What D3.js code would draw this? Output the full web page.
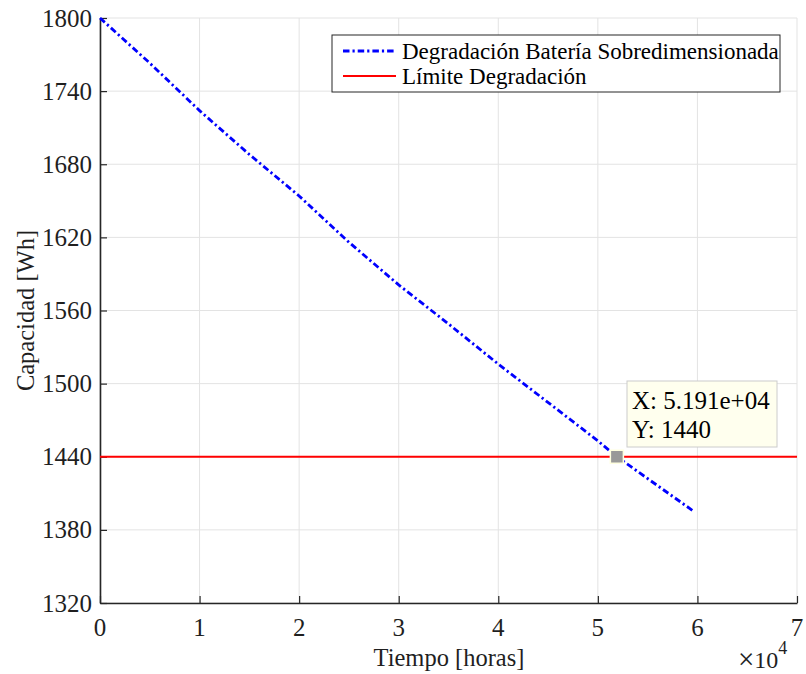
<!DOCTYPE html>
<html>
<head>
<meta charset="utf-8">
<script src="https://cdn.jsdelivr.net/npm/d3@7"></script>
<style>
  html, body { margin: 0; padding: 0; background: #fff; }
  svg { display: block; font-family: "Liberation Serif", "Times New Roman", serif; }
</style>
</head>
<body>
<svg id="chart" width="806" height="674"></svg>
<script>
// Battery capacity over time (hours)
const hours    = [0, 5000, 10000, 15000, 20000, 25000, 30000, 35000, 40000, 46200, 50000, 51910, 59670];
const capacity = [1800, 1763, 1724, 1688, 1654, 1616, 1581, 1549, 1516, 1477, 1453, 1440, 1395];

// Degradation threshold
const limitValue = 1440;
const limitRange = [0, 70000];

// Marked point
const tipHours = 51910;
const tipCapacity = 1440;

// Axis ticks
const xTicks = [0, 1, 2, 3, 4, 5, 6, 7];          // ×10^4 hours
const yTicks = [1320, 1380, 1440, 1500, 1560, 1620, 1680, 1740, 1800];

const seriesNames = ["Degradación Batería Sobredimensionada", "Límite Degradación"];

const svg = d3.select("#chart");
const plotL = 100, plotR = 797, plotT = 18, plotB = 603;
const textColor = "#1f1f1f";

const x = d3.scaleLinear().domain([0, 7]).range([plotL, plotR]);
const y = d3.scaleLinear().domain([1320, 1800]).range([plotB, plotT]);

// Grid
const grid = svg.append("g").attr("stroke", "#e3e3e3").attr("stroke-width", 1);
grid.selectAll("line.v").data(xTicks).join("line").attr("class", "v")
  .attr("x1", d => x(d)).attr("x2", d => x(d))
  .attr("y1", plotT).attr("y2", plotB);
grid.selectAll("line.h").data(yTicks).join("line").attr("class", "h")
  .attr("x1", plotL).attr("x2", plotR)
  .attr("y1", d => y(d)).attr("y2", d => y(d));

// Axes (ticks pointing inward)
const axisColor = "#262626";
const xAxis = svg.append("g").attr("transform", `translate(0,${plotB})`)
  .call(d3.axisTop(x).tickValues(xTicks).tickSize(7).tickSizeOuter(0).tickFormat(""));
const yAxis = svg.append("g").attr("transform", `translate(${plotL},0)`)
  .call(d3.axisRight(y).tickValues(yTicks).tickSize(7).tickSizeOuter(0).tickFormat(""));
[xAxis, yAxis].forEach(g => {
  g.select(".domain").attr("stroke", axisColor).attr("stroke-width", 1.6);
  g.selectAll(".tick line").attr("stroke", axisColor).attr("stroke-width", 1.2);
});

// Tick labels
svg.append("g").selectAll("text").data(xTicks).join("text")
  .attr("x", d => x(d)).attr("y", 636)
  .attr("text-anchor", "middle")
  .attr("font-size", 25).attr("fill", textColor)
  .text(d => d);
svg.append("g").selectAll("text").data(yTicks).join("text")
  .attr("x", 92).attr("y", d => y(d) + 8.5)
  .attr("text-anchor", "end")
  .attr("font-size", 25).attr("fill", textColor)
  .text(d => d);

// Exponent label
const expo = svg.append("text").attr("x", 738).attr("y", 668)
  .attr("font-size", 24).attr("fill", textColor);
expo.append("tspan").attr("font-size", 29).attr("dy", 1).text("×");
expo.append("tspan").attr("dy", -1).text("10");
expo.append("tspan").attr("dy", -14).attr("font-size", 18).text("4");

// Axis titles
svg.append("text").attr("x", 449).attr("y", 666)
  .attr("text-anchor", "middle").attr("font-size", 24.5).attr("fill", textColor)
  .text("Tiempo [horas]");
svg.append("text")
  .attr("transform", `translate(34,${(plotT + plotB) / 2}) rotate(-90)`)
  .attr("text-anchor", "middle").attr("font-size", 24.5).attr("fill", textColor)
  .text("Capacidad [Wh]");

// Limit line
svg.append("line")
  .attr("x1", x(limitRange[0] / 1e4)).attr("x2", x(limitRange[1] / 1e4))
  .attr("y1", y(limitValue)).attr("y2", y(limitValue))
  .attr("stroke", "#ff0000").attr("stroke-width", 2);

// Degradation curve
const curveDash = "6.5,3,2.2,3";
const line = d3.line().x(d => x(d[0] / 1e4)).y(d => y(d[1]));
svg.append("path")
  .datum(hours.map((h, i) => [h, capacity[i]]))
  .attr("d", line)
  .attr("fill", "none")
  .attr("stroke", "#0000ff").attr("stroke-width", 2.8)
  .attr("stroke-dasharray", curveDash);

// Data tip marker
svg.append("rect")
  .attr("x", x(tipHours / 1e4) - 6.5).attr("y", y(tipCapacity) - 6.5)
  .attr("width", 13).attr("height", 13)
  .attr("fill", "#999999").attr("stroke", "#ffffe0").attr("stroke-width", 1.5);

// Data tip box
svg.append("rect")
  .attr("x", 627).attr("y", 381).attr("width", 150).attr("height", 66)
  .attr("fill", "#ffffee").attr("stroke", "#cccccc").attr("stroke-width", 1);
svg.append("text").attr("x", 632).attr("y", 409)
  .attr("font-size", 25).attr("fill", "#000")
  .text("X: " + d3.format(".3e")(tipHours).replace("e+", "e+0"));
svg.append("text").attr("x", 632).attr("y", 438)
  .attr("font-size", 25).attr("fill", "#000")
  .text("Y: " + tipCapacity);

// Legend
const lg = svg.append("g");
lg.append("rect").attr("x", 332).attr("y", 35).attr("width", 448).attr("height", 57)
  .attr("fill", "#fff").attr("stroke", "#262626").attr("stroke-width", 1);
const legendStyles = [
  { color: "#0000ff", dash: curveDash, width: 2.8 },
  { color: "#ff0000", dash: null, width: 2 }
];
seriesNames.forEach((name, i) => {
  const cy = 51 + i * 25;
  lg.append("line").attr("x1", 343).attr("x2", 396).attr("y1", cy).attr("y2", cy)
    .attr("stroke", legendStyles[i].color).attr("stroke-width", legendStyles[i].width)
    .attr("stroke-dasharray", legendStyles[i].dash);
  lg.append("text").attr("x", 402).attr("y", cy + 8)
    .attr("font-size", 23).attr("fill", "#000").text(name);
});
</script>
</body>
</html>
